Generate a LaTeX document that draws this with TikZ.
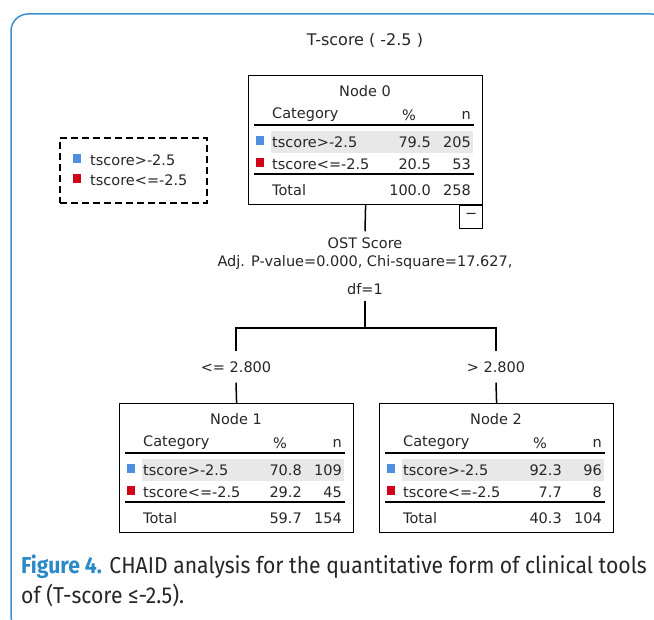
\documentclass[tikz,border=0pt]{standalone}
\usepackage{fontspec}
\usetikzlibrary{positioning}
\newfontfamily\spssfont{DejaVu Sans}
\newfontfamily\capfont[FakeStretch=0.92]{Fira Sans}
\definecolor{catblue}{HTML}{4F8FE0}
\definecolor{catred}{HTML}{D0021B}
\definecolor{bandgray}{HTML}{E8E8E8}
\definecolor{frameblue}{HTML}{3D8FD1}
\definecolor{capblue}{HTML}{2B89C8}
\definecolor{captext}{HTML}{262626}

\begin{document}
\begin{tikzpicture}[
    x=1pt, y=-1pt,
    cell/.style={draw=none, inner sep=0pt, text=black!85, font=\spssfont\fontsize{14.5}{17}\selectfont},
    nodebox/.style={draw, line width=1.2pt, minimum width=234pt, minimum height=129pt, anchor=north west, inner sep=0pt},
    hrule/.style={line width=1.8pt},
    link/.style={line width=1.5pt},
    swatch/.style={minimum width=8pt, minimum height=9pt, inner sep=0pt}
]
\useasboundingbox (0,0) rectangle (654,620);
% --- outer frame ---
\draw[frameblue, line width=1.5pt, rounded corners=17pt] (11,14) rectangle (668,633);
%% Title
\node[cell, font=\spssfont\fontsize{16}{19}\selectfont] (title) at (365,40) {T-score ( -2.5 )};
% --- Legend ---
\node[draw, dashed, dash pattern=on 7pt off 4pt, line width=1.4pt, minimum width=147pt, minimum height=65pt] (legend) at (133.5,170.5) {};
\node[swatch, fill=catblue] (leg-swa) at (76.5,159) {};
\node[swatch, fill=catred] (leg-swb) at (76.5,179) {};
\node[cell, anchor=west] (leg-a) at (90,160) {tscore>-2.5};
\node[cell, anchor=west] (leg-b) at (90,180) {tscore<=-2.5};
% --- Tree nodes ---
\foreach \nm/\x/\y/\ttl/\pa/\na/\pb/\nb/\tp/\nt in {
    n0/248/75/Node 0/79.5/205/20.5/53/100.0/258,
    n1/119/403/Node 1/70.8/109/29.2/45/59.7/154,
    n2/379/403/Node 2/92.3/96/7.7/8/40.3/104} {
  \node[nodebox] (\nm) at (\x,\y) {};
  \begin{scope}[shift={(\x,\y)}]
    \fill[bandgray] (23,56) rectangle (225,78);
    \node[cell] (\nm-title) at (117,16) {\ttl};
    \node[cell, anchor=west] (\nm-cat) at (24,40) {Category};
    \node[cell] (\nm-pct) at (161,40) {\%};
    \node[cell, anchor=east] (\nm-n) at (223,40) {n};
    \draw[hrule] (6,50) -- (226,50);
    \node[swatch, fill=catblue] (\nm-swa) at (12,66) {};
    \node[cell, anchor=west] (\nm-a) at (24,67) {tscore>-2.5};
    \node[cell, anchor=east] (\nm-pa) at (183,67) {\pa};
    \node[cell, anchor=east] (\nm-na) at (223,67) {\na};
    \node[swatch, fill=catred] (\nm-swb) at (12,88) {};
    \node[cell, anchor=west] (\nm-b) at (24,89) {tscore<=-2.5};
    \node[cell, anchor=east] (\nm-pb) at (183,89) {\pb};
    \node[cell, anchor=east] (\nm-nb) at (223,89) {\nb};
    \draw[hrule] (6,99) -- (226,99);
    \node[cell, anchor=west] (\nm-tot) at (24,115) {Total};
    \node[cell, anchor=east] (\nm-pt) at (183,115) {\tp};
    \node[cell, anchor=east] (\nm-nt) at (223,115) {\nt};
  \end{scope}
}
\node[draw, line width=1.2pt, minimum width=23pt, minimum height=23pt, inner sep=0pt, anchor=north east] (n0-tog) at (n0.south east) {};
\node[cell] (n0-minus) at ([yshift=1pt]n0-tog.center) {−};
% --- Split ---
\node[cell, inner ysep=6pt] (split1) at (365,243) {OST Score};
\node[cell] (split2) at (365,263) {Adj. P-value=0.000, Chi-square=17.627,};
\node[cell, inner ysep=6pt] (split3) at (365,289) {df=1};
\coordinate (fork) at (365,328);
\node[cell, inner ysep=10pt] (lbl1) at (236,367) {<= 2.800};
\node[cell, inner ysep=10pt] (lbl2) at (496,367) {> 2.800};
\draw[link] (n0.south) -- (split1.north);
\draw[link] (split3.south) -- (fork);
\draw[link] (lbl1.north) |- (fork) -| (lbl2.north);
\draw[link] (lbl1.south) -- (n1.north);
\draw[link] (lbl2.south) -- (n2.north);
% --- Caption ---
\node[anchor=base west, inner sep=0pt, text=captext, font=\capfont\fontsize{23}{30}\selectfont] (cap1) at (21,573)
    {\textcolor{capblue}{\bfseries Figure 4.} CHAID analysis for the quantitative form of clinical tools};
\node[anchor=base west, inner sep=0pt, text=captext, font=\capfont\fontsize{23}{30}\selectfont] (cap2) at (21,603)
    {of (T-score ≤-2.5).};
\end{tikzpicture}
\end{document}
